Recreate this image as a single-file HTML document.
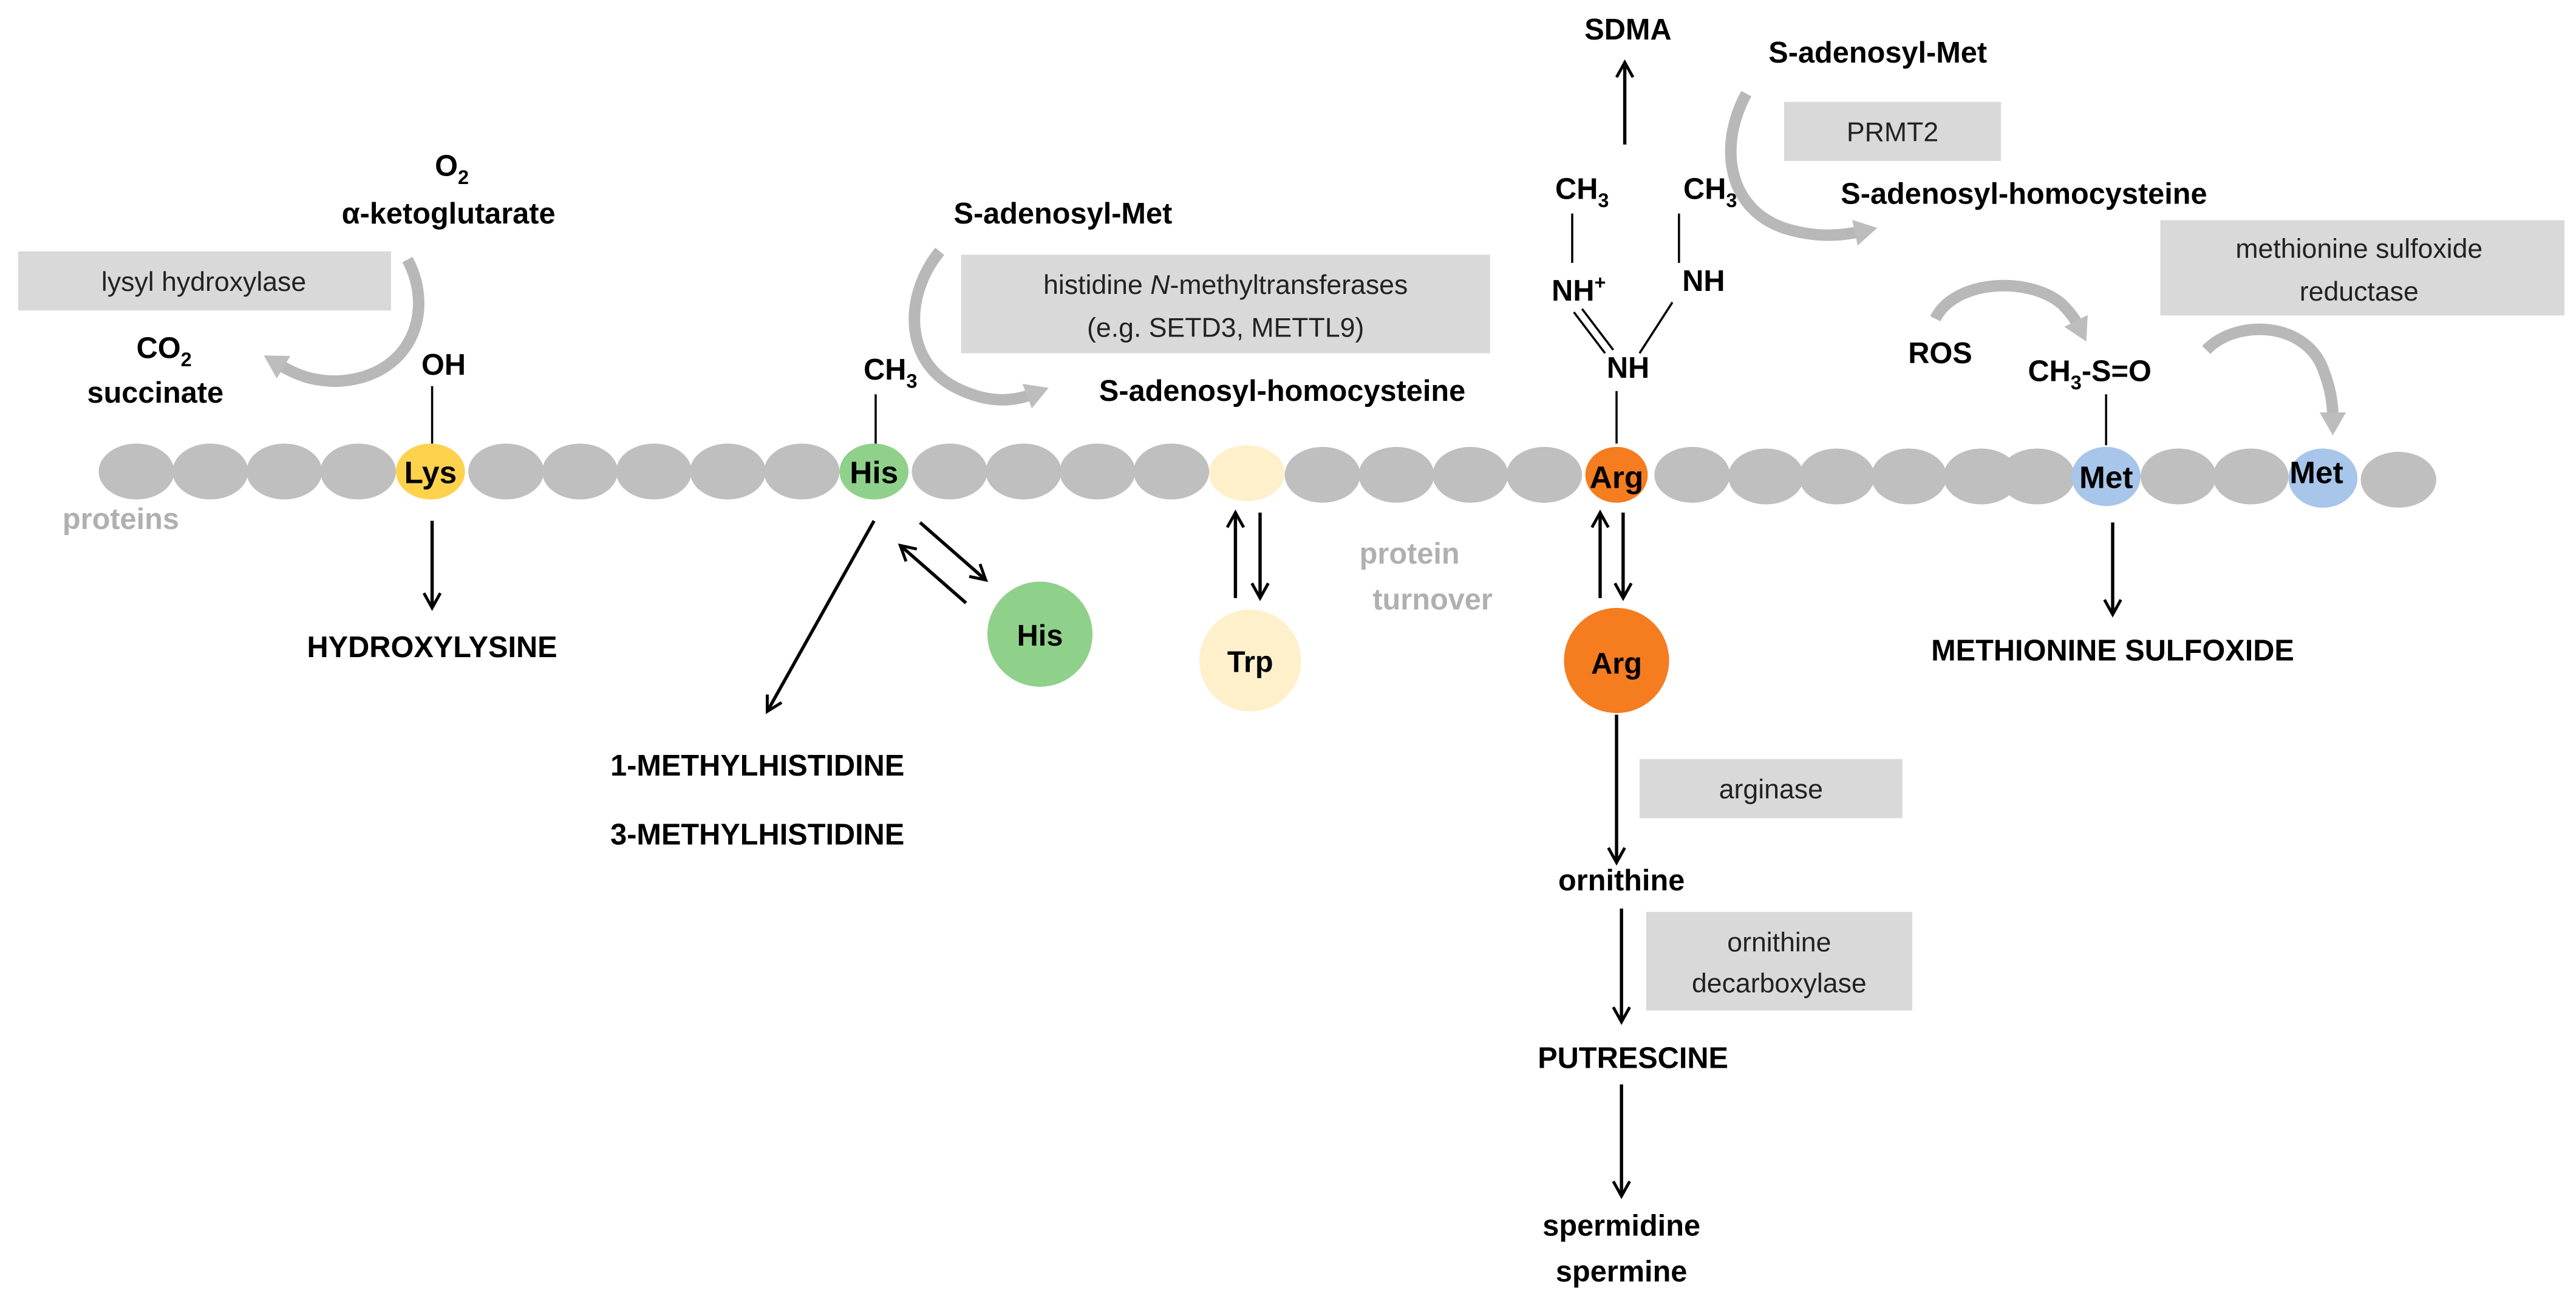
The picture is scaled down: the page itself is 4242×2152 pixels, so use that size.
<!DOCTYPE html>
<html><head><meta charset="utf-8"><style>
html,body{margin:0;padding:0;background:#fff}
svg{display:block}
text{font-family:"Liberation Sans",sans-serif}
.b{font-weight:bold;font-size:18px;fill:#000}
.n{font-size:16.5px;fill:#222}
.g{font-weight:bold;font-size:18px;fill:#b0b0b0}
.bx{fill:#d9d9d9}
.ln{stroke:#000;stroke-width:1.3;fill:none}
.ar{stroke:#000;stroke-width:2;fill:none;marker-end:url(#ah)}
.cv{stroke:#b8b8b8;stroke-width:7;fill:none;stroke-linecap:butt}
</style></head><body>
<svg width="4242" height="2152" viewBox="0 0 1568 795.5" xmlns="http://www.w3.org/2000/svg">
<defs>
<marker id="ah" markerWidth="12" markerHeight="12" refX="10" refY="6" orient="auto" markerUnits="userSpaceOnUse">
<path d="M1,1 L10,6 L1,11" fill="none" stroke="#000" stroke-width="1.8"/></marker>
<marker id="gh" markerWidth="18" markerHeight="18" refX="3" refY="9" orient="auto" markerUnits="userSpaceOnUse">
<path d="M0,1 L14,9 L0,17 Z" fill="#bdbdbd"/></marker>
</defs>
<g fill="#bfbfbf">
<ellipse cx="83" cy="287" rx="23" ry="17"/><ellipse cx="128" cy="287" rx="23" ry="17"/>
<ellipse cx="173" cy="287" rx="23" ry="17"/><ellipse cx="218" cy="287" rx="23" ry="17"/>
<ellipse cx="308" cy="287" rx="23" ry="17"/><ellipse cx="353" cy="287" rx="23" ry="17"/>
<ellipse cx="398" cy="287" rx="23" ry="17"/><ellipse cx="443" cy="287" rx="23" ry="17"/>
<ellipse cx="488" cy="287" rx="23" ry="17"/><ellipse cx="578" cy="287" rx="23" ry="17"/>
<ellipse cx="623" cy="287" rx="23" ry="17"/><ellipse cx="668" cy="287" rx="23" ry="17"/>
<ellipse cx="713" cy="287" rx="23" ry="17"/><ellipse cx="805" cy="289" rx="23" ry="17"/>
<ellipse cx="850" cy="289" rx="23" ry="17"/><ellipse cx="895" cy="289" rx="23" ry="17"/>
<ellipse cx="940" cy="289" rx="23" ry="17"/><ellipse cx="1030" cy="289" rx="23" ry="17"/>
<ellipse cx="1075" cy="290" rx="23" ry="17"/><ellipse cx="1118" cy="290" rx="23" ry="17"/>
<ellipse cx="1162" cy="290" rx="23" ry="17"/><ellipse cx="1206" cy="290" rx="23" ry="17"/>
<ellipse cx="1240" cy="290" rx="23" ry="17"/><ellipse cx="1326" cy="290" rx="23" ry="17"/>
<ellipse cx="1370" cy="290" rx="23" ry="17"/><ellipse cx="1460" cy="292" rx="23" ry="17"/>
</g>
<ellipse cx="262" cy="287" rx="21" ry="17" fill="#ffd24d"/>
<ellipse cx="532" cy="287" rx="21" ry="17" fill="#8fd18b"/>
<ellipse cx="759" cy="288" rx="23" ry="17" fill="#fff0cc"/>
<ellipse cx="984" cy="289" rx="19" ry="17" fill="#f57c1f"/>
<ellipse cx="1282" cy="290" rx="21" ry="18" fill="#a8c5ea"/>
<ellipse cx="1414" cy="291" rx="21" ry="18" fill="#a8c5ea"/>
<g class="b" text-anchor="middle" style="font-size:19px">
<text x="262" y="294">Lys</text><text x="532" y="294">His</text>
<text x="984" y="297">Arg</text><text x="1282" y="297">Met</text><text x="1410" y="294">Met</text>
</g>
<text class="g" x="38" y="322">proteins</text>
<text class="g" x="858" y="343" text-anchor="middle">protein</text>
<text class="g" x="872" y="371" text-anchor="middle">turnover</text>

<text class="b" x="275" y="107" text-anchor="middle">O<tspan font-size="12" dy="5">2</tspan></text>
<text class="b" x="273" y="136" text-anchor="middle">α-ketoglutarate</text>
<rect class="bx" x="11" y="153" width="227" height="36"/>
<text class="n" x="124" y="177" text-anchor="middle">lysyl hydroxylase</text>
<text class="b" x="83" y="218">CO<tspan font-size="12" dy="5">2</tspan></text>
<text class="b" x="53" y="245">succinate</text>
<path class="cv" d="M248,158 C265,190 250,230 205,232 C190,232 180,228 170,222" marker-end="url(#gh)"/>
<text class="b" x="270" y="228" text-anchor="middle">OH</text>
<line class="ln" x1="263" y1="235" x2="263" y2="270"/>
<line class="ar" x1="263" y1="317" x2="263" y2="370"/>
<text class="b" x="263" y="400" text-anchor="middle">HYDROXYLYSINE</text>

<text class="b" x="647" y="136" text-anchor="middle">S-adenosyl-Met</text>
<rect class="bx" x="585" y="155" width="322" height="60"/>
<text class="n" x="746" y="179" text-anchor="middle">histidine <tspan font-style="italic">N</tspan>-methyltransferases</text>
<text class="n" x="746" y="205" text-anchor="middle">(e.g. SETD3, METTL9)</text>
<path class="cv" d="M572,153 C550,180 550,220 582,236 C600,245 615,245 628,240" marker-end="url(#gh)"/>
<text class="b" x="669" y="244">S-adenosyl-homocysteine</text>
<text class="b" x="542" y="231" text-anchor="middle">CH<tspan font-size="12" dy="5">3</tspan></text>
<line class="ln" x1="533" y1="240" x2="533" y2="270"/>
<line class="ar" x1="532" y1="317" x2="467" y2="433"/>
<line class="ar" x1="560" y1="318" x2="600" y2="353"/>
<line class="ar" x1="588" y1="367" x2="548" y2="332"/>
<circle cx="633" cy="386" r="32" fill="#8fd18b"/>
<text class="b" x="633" y="393" text-anchor="middle">His</text>
<text class="b" x="461" y="472" text-anchor="middle">1-METHYLHISTIDINE</text>
<text class="b" x="461" y="514" text-anchor="middle">3-METHYLHISTIDINE</text>

<line class="ar" x1="752" y1="364" x2="752" y2="312"/>
<line class="ar" x1="767" y1="312" x2="767" y2="364"/>
<circle cx="761" cy="402" r="31" fill="#fff0cc"/>
<text class="b" x="761" y="409" text-anchor="middle">Trp</text>

<text class="b" x="991" y="24" text-anchor="middle">SDMA</text>
<line class="ar" x1="989" y1="88" x2="989" y2="38"/>
<text class="b" x="1143" y="38" text-anchor="middle">S-adenosyl-Met</text>
<rect class="bx" x="1086" y="62" width="132" height="36"/>
<text class="n" x="1152" y="86" text-anchor="middle">PRMT2</text>
<path class="cv" d="M1063,57 C1045,90 1052,130 1090,140 C1105,144 1118,144 1132,141" marker-end="url(#gh)"/>
<text class="b" x="1232" y="124" text-anchor="middle">S-adenosyl-homocysteine</text>
<text class="b" x="963" y="121" text-anchor="middle">CH<tspan font-size="12" dy="5">3</tspan></text>
<text class="b" x="1041" y="121" text-anchor="middle">CH<tspan font-size="12" dy="5">3</tspan></text>
<line class="ln" x1="957" y1="130" x2="957" y2="160"/>
<line class="ln" x1="1022" y1="130" x2="1022" y2="160"/>
<text class="b" x="961" y="183" text-anchor="middle">NH<tspan font-size="12" dy="-7">+</tspan></text>
<text class="b" x="1037" y="177" text-anchor="middle">NH</text>
<line class="ln" x1="958" y1="190" x2="977" y2="215"/>
<line class="ln" x1="963" y1="188" x2="982" y2="213"/>
<line class="ln" x1="1018" y1="184" x2="998" y2="215"/>
<text class="b" x="991" y="230" text-anchor="middle">NH</text>
<line class="ln" x1="984" y1="238" x2="984" y2="270"/>
<line class="ar" x1="974" y1="364" x2="974" y2="312"/>
<line class="ar" x1="988" y1="312" x2="988" y2="364"/>
<circle cx="984" cy="402" r="32" fill="#f57c1f"/>
<text class="b" x="984" y="410" text-anchor="middle">Arg</text>
<line class="ar" x1="984" y1="435" x2="984" y2="525"/>
<rect class="bx" x="998" y="462" width="160" height="36"/>
<text class="n" x="1078" y="486" text-anchor="middle">arginase</text>
<text class="b" x="987" y="542" text-anchor="middle">ornithine</text>
<line class="ar" x1="987" y1="553" x2="987" y2="622"/>
<rect class="bx" x="1002" y="555" width="162" height="60"/>
<text class="n" x="1083" y="579" text-anchor="middle">ornithine</text>
<text class="n" x="1083" y="604" text-anchor="middle">decarboxylase</text>
<text class="b" x="994" y="650" text-anchor="middle">PUTRESCINE</text>
<line class="ar" x1="987" y1="660" x2="987" y2="728"/>
<text class="b" x="987" y="752" text-anchor="middle">spermidine</text>
<text class="b" x="987" y="780" text-anchor="middle">spermine</text>

<rect class="bx" x="1315" y="134" width="246" height="58"/>
<text class="n" x="1436" y="157" text-anchor="middle">methionine sulfoxide</text>
<text class="n" x="1436" y="183" text-anchor="middle">reductase</text>
<path class="cv" d="M1178,194 C1190,170 1235,168 1255,185 C1260,190 1263,194 1265,198" marker-end="url(#gh)"/>
<text class="b" x="1181" y="221" text-anchor="middle">ROS</text>
<text class="b" x="1272" y="232" text-anchor="middle">CH<tspan font-size="12" dy="5">3</tspan><tspan dy="-5">-S=O</tspan></text>
<path class="cv" d="M1343,213 C1360,195 1400,195 1413,222 C1418,234 1420,244 1420,254" marker-end="url(#gh)"/>
<line class="ln" x1="1282" y1="240" x2="1282" y2="271"/>
<line class="ar" x1="1286" y1="318" x2="1286" y2="374"/>
<text class="b" x="1286" y="402" text-anchor="middle">METHIONINE SULFOXIDE</text>
</svg>
</body></html>
